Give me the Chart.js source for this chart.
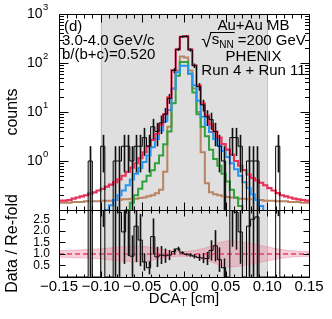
<!DOCTYPE html>
<html>
<head>
<meta charset="utf-8">
<script src="https://cdn.jsdelivr.net/npm/chart.js@4"></script>
<style>
  html, body { margin: 0; padding: 0; background: #fff; }
  #wrap { position: relative; width: 332px; height: 319px; }
  canvas { position: absolute; left: 0; top: 0; }
</style>
</head>
<body>
<div id="wrap">
  <canvas id="topPanel" width="332" height="319"></canvas>
  <canvas id="ratioPanel" width="332" height="319"></canvas>
</div>
<script>
Chart.defaults.font.family = '"Liberation Sans", Arial, sans-serif';
Chart.defaults.color = '#000';

// bins of DCA_T, 0.005 cm wide, from -0.15 to 0.15
const binWidth = 0.005;
const binLow = Array.from({ length: 60 }, (_, i) => -0.15 + i * binWidth);

// measured counts
const dataCounts = [
  0, 0, 0, 0, 0, 0, 0, 1, 0, 0,
  2, 0, 0, 1, 1, 2, 2, 1, 2, 2,
  3, 2, 5, 4, 6, 9, 19, 70, 190, 345,
  350, 185, 88, 33, 14, 8, 7, 4, 2, 1,
  0, 3, 3, 2, 0, 1, 1, 1, 0, 0,
  0, 0, 2, 0, 0, 0, 0, 0, 0, 0
];
// re-folded total (red)
const refoldTotal = [
  0.155, 0.155, 0.16, 0.17, 0.18, 0.19, 0.2, 0.215, 0.23, 0.25,
  0.27, 0.3, 0.33, 0.37, 0.42, 0.5, 0.6, 0.73, 0.9, 1.15,
  1.5, 2.0, 2.7, 3.6, 5.5, 9, 20, 72, 190, 340,
  355, 190, 90, 35, 15, 8.5, 5.6, 4, 3, 2.2,
  1.7, 1.35, 1.0, 0.8, 0.65, 0.53, 0.45, 0.4, 0.36, 0.32,
  0.28, 0.25, 0.22, 0.2, 0.19, 0.18, 0.17, 0.165, 0.16, 0.155
];
// components
const compBlue = [
  0.02, 0.022, 0.025, 0.028, 0.032, 0.037, 0.043, 0.05, 0.058, 0.068,
  0.08, 0.1, 0.125, 0.16, 0.2, 0.25, 0.32, 0.42, 0.55, 0.72,
  0.95, 1.3, 1.9, 2.8, 4.2, 6.5, 11, 30, 65, 88,
  88, 60, 35, 17, 8, 5.5, 3.9, 2.8, 2.1, 1.6,
  1.2, 0.9, 0.68, 0.5, 0.37, 0.28, 0.21, 0.16, 0.12, 0.095,
  0.075, 0.06, 0.05, 0.042, 0.036, 0.031, 0.027, 0.024, 0.021, 0.019
];
const compGreen = [
  0.002, 0.002, 0.003, 0.003, 0.004, 0.005, 0.006, 0.008, 0.01, 0.013,
  0.017, 0.022, 0.03, 0.04, 0.055, 0.075, 0.1, 0.14, 0.2, 0.27,
  0.38, 0.5, 0.65, 0.9, 1.3, 2.2, 4, 15, 55, 105,
  105, 60, 25, 9, 5, 3.2, 1.7, 1.1, 0.8, 0.55,
  0.38, 0.26, 0.18, 0.12, 0.085, 0.06, 0.042, 0.03, 0.021, 0.015,
  0.011, 0.008, 0.006, 0.005, 0.004, 0.003, 0.003, 0.002, 0.002, 0.002
];
const compBrown = [
  0.14, 0.14, 0.14, 0.145, 0.145, 0.145, 0.15, 0.15, 0.15, 0.15,
  0.155, 0.155, 0.155, 0.16, 0.16, 0.165, 0.165, 0.17, 0.17, 0.175,
  0.18, 0.19, 0.2, 0.22, 0.26, 0.6, 5, 30, 70, 135,
  130, 70, 30, 10, 1.5, 0.35, 0.23, 0.21, 0.2, 0.19,
  0.185, 0.18, 0.175, 0.17, 0.17, 0.165, 0.165, 0.16, 0.16, 0.155,
  0.155, 0.155, 0.15, 0.15, 0.15, 0.145, 0.145, 0.145, 0.14, 0.14
];
// data / re-fold
const ratioVals = [
  0, 0, 0, 0, 0, 0, 0, 4.6, 0, 0,
  7.4, 0, 0, 3.2, 2.8, 1.95, 3.1, 0.9, 2.2, 1.6,
  0.65, 0.4, 1.75, 0.87, 0.95, 0.92, 0.95, 1.1, 1.22, 1.05,
  0.98, 0.95, 0.9, 0.85, 0.82, 0.8, 1.15, 1.35, 0.75, 0.4,
  0, 3.1, 2.8, 1.95, 0, 2.2, 2.5, 2.6, 0, 0,
  0, 0, 9, 0, 0, 0, 0, 0, 0, 0
];
// re-fold uncertainty band in the ratio panel
const bandX = [-0.15, -0.125, -0.1, -0.075, -0.05, -0.025, 0, 0.025, 0.05, 0.075, 0.1, 0.125, 0.15];
const bandLow = [0.86, 0.83, 0.78, 0.70, 0.67, 0.82, 0.90, 0.75, 0.45, 0.52, 0.70, 0.85, 0.90];
const bandHigh = [1.14, 1.17, 1.22, 1.30, 1.33, 1.18, 1.10, 1.25, 1.55, 1.48, 1.30, 1.15, 1.10];

const xTicks = [-0.15, -0.1, -0.05, 0, 0.05, 0.1, 0.15];
const countDecades = [0, 1, 2, 3];
const ratioTicks = [0.5, 1.0, 1.5, 2.0, 2.5];
const shadeRange = [-0.1, 0.1];

const FONT = '"Liberation Sans", Arial, sans-serif';

function steps(vals, floor) {
  const pts = vals.map((v, i) => ({ x: binLow[i], y: floor && !(v > 0) ? floor : v }));
  pts.push({ x: binLow[vals.length - 1] + binWidth, y: pts[pts.length - 1].y });
  return pts;
}

function histo(vals, color, width, floor) {
  return {
    data: steps(vals, floor), borderColor: color, borderWidth: width,
    stepped: true, pointRadius: 0, fill: false
  };
}

// grey band -0.1..0.1
const shade = {
  id: 'shade',
  beforeDatasetsDraw(chart) {
    const { ctx, chartArea: a, scales: { x } } = chart;
    const l = x.getPixelForValue(shadeRange[0]);
    const r = x.getPixelForValue(shadeRange[1]);
    ctx.save();
    ctx.fillStyle = '#dfdfdf';
    ctx.fillRect(l, a.top, r - l, a.bottom - a.top);
    ctx.strokeStyle = '#c2c2c2';
    ctx.lineWidth = 1;
    ctx.beginPath();
    [l, r].forEach(p => {
      ctx.moveTo(Math.round(p) + 0.5, a.top);
      ctx.lineTo(Math.round(p) + 0.5, a.bottom);
    });
    ctx.stroke();
    ctx.restore();
  }
};

function errorBars(vals, lo, hi) {
  const each = (chart, fn) => {
    const { ctx, chartArea: a, scales: { x, y } } = chart;
    ctx.save();
    ctx.beginPath();
    ctx.rect(a.left, a.top, a.right - a.left, a.bottom - a.top);
    ctx.clip();
    vals.forEach((v, i) => {
      if (!(v > 0)) return;
      const cx = Math.round(x.getPixelForValue(binLow[i] + binWidth / 2));
      const top = Math.max(y.getPixelForValue(hi[i]), a.top - 2);
      const bot = lo[i] > y.min ? y.getPixelForValue(lo[i]) : a.bottom + 2;
      fn(ctx, cx, top, Math.min(bot, a.bottom + 2));
    });
    ctx.restore();
  };
  return {
    id: 'errorBars',
    beforeDatasetsDraw(chart) {
      each(chart, (ctx, cx, top, bot) => {
        ctx.fillStyle = 'rgba(100,100,100,0.55)';
        ctx.fillRect(cx - 1, top, 3, bot - top);
      });
    },
    afterDatasetsDraw(chart) {
      each(chart, (ctx, cx, top, bot) => {
        ctx.strokeStyle = '#111';
        ctx.lineWidth = 1;
        ctx.beginPath();
        ctx.moveTo(cx + 0.5, top);
        ctx.lineTo(cx + 0.5, bot);
        ctx.stroke();
      });
    }
  };
}

// frame with inward ticks on all four sides
function frame(xMaj, xMin, yList) {
  return {
    id: 'frame',
    afterDraw(chart) {
      const { ctx, chartArea: a, scales: { x, y } } = chart;
      const L = a.left + 0.5, R = a.right + 0.5, T = a.top + 0.5, B = a.bottom + 0.5;
      ctx.save();
      ctx.strokeStyle = '#000';
      ctx.lineWidth = 1;
      ctx.beginPath();
      ctx.rect(L, T, R - L, B - T);
      for (let i = 0; i <= 30; i++) {
        const v = -0.15 + i * 0.01;
        const len = i % 5 === 0 ? xMaj : xMin;
        const px = Math.round(x.getPixelForValue(v)) + 0.5;
        ctx.moveTo(px, T); ctx.lineTo(px, T + len);
        ctx.moveTo(px, B); ctx.lineTo(px, B - len);
      }
      yList.forEach(t => {
        const py = Math.round(y.getPixelForValue(t.v)) + 0.5;
        ctx.moveTo(L, py); ctx.lineTo(L + t.len, py);
        ctx.moveTo(R, py); ctx.lineTo(R - t.len, py);
      });
      ctx.stroke();
      ctx.restore();
    }
  };
}

const logTicks = [];
for (let k = -1; k <= 2; k++) {
  for (let m = 1; m <= 9; m++) {
    logTicks.push({ v: m * Math.pow(10, k), len: m === 1 ? 9 : 4.5 });
  }
}

const labels = {
  id: 'labels',
  afterDraw(chart) {
    const { ctx, scales: { y } } = chart;
    ctx.save();
    ctx.fillStyle = '#000';
    ctx.strokeStyle = '#000';
    countDecades.forEach(k => {
      const py = y.getPixelForValue(Math.pow(10, k));
      ctx.font = '14px ' + FONT;
      ctx.textAlign = 'right';
      ctx.textBaseline = 'middle';
      ctx.fillText('10', 42.5, py + 0.5);
      ctx.font = '9.5px ' + FONT;
      ctx.textAlign = 'left';
      ctx.textBaseline = 'alphabetic';
      ctx.fillText(String(k), 43, py - 4);
    });

    ctx.font = '15px ' + FONT;
    ctx.textAlign = 'left';
    ctx.fillText('(d)', 64, 31);
    ctx.fillText('3.0-4.0 GeV/c', 62, 45);
    ctx.fillText('b/(b+c)=0.520', 62, 59);

    const cx = 253.5;
    ctx.textAlign = 'center';
    ctx.fillText('Au+Au MB', cx, 30);
    ctx.fillText('PHENIX', cx, 61);
    ctx.fillText('Run 4 + Run 11', cx, 75);

    ctx.textAlign = 'left';
    ctx.font = '19px ' + FONT;
    const wRoot = ctx.measureText('\u221A').width;
    ctx.font = '15px ' + FONT;
    const wS = ctx.measureText('s').width;
    const wRest = ctx.measureText(' =200 GeV').width;
    ctx.font = '10px ' + FONT;
    const wNN = ctx.measureText('NN').width;
    let x0 = cx - (wRoot + wS + wNN + wRest) / 2;
    ctx.font = '19px ' + FONT;
    ctx.fillText('\u221A', x0, 47);
    ctx.font = '15px ' + FONT;
    ctx.fillText('s', x0 + wRoot, 44);
    ctx.font = '10px ' + FONT;
    ctx.fillText('NN', x0 + wRoot + wS, 48);
    ctx.font = '15px ' + FONT;
    ctx.fillText(' =200 GeV', x0 + wRoot + wS + wNN, 45);
    ctx.lineWidth = 1;
    ctx.beginPath();
    ctx.moveTo(x0 + wRoot - 1.5, 32.5);
    ctx.lineTo(x0 + wRoot + wS + wNN + 1, 32.5);
    ctx.stroke();
    ctx.restore();
  }
};

const xTitle = {
  id: 'xTitle',
  afterDraw(chart) {
    const { ctx } = chart;
    ctx.save();
    ctx.fillStyle = '#000';
    ctx.textBaseline = 'alphabetic';
    ctx.textAlign = 'left';
    ctx.font = '15px ' + FONT;
    const w1 = ctx.measureText('DCA').width;
    const w3 = ctx.measureText(' [cm]').width;
    ctx.font = '10px ' + FONT;
    const w2 = ctx.measureText('T').width;
    let x0 = 184 - (w1 + w2 + w3) / 2;
    ctx.font = '15px ' + FONT;
    ctx.fillText('DCA', x0, 303);
    ctx.fillText(' [cm]', x0 + w1 + w2, 303);
    ctx.font = '10px ' + FONT;
    ctx.fillText('T', x0 + w1, 306);
    ctx.restore();
  }
};

const countLo = dataCounts.map(v => v - Math.sqrt(v));
const countHi = dataCounts.map(v => v + Math.sqrt(v));

new Chart(document.getElementById('topPanel'), {
  type: 'line',
  data: {
    datasets: [
      histo(dataCounts, '#000', 1, 1e-4),
      histo(refoldTotal, 'rgb(232,48,90)', 2.2),
      histo(compBlue, 'rgb(40,150,240)', 2),
      histo(compGreen, 'rgb(50,160,60)', 2),
      histo(compBrown, 'rgb(185,132,98)', 2)
    ]
  },
  options: {
    responsive: false,
    devicePixelRatio: 1,
    animation: false,
    layout: { padding: { top: 14, right: 23, bottom: 109, left: 0 } },
    plugins: { legend: { display: false }, tooltip: { enabled: false } },
    scales: {
      x: { type: 'linear', min: -0.15, max: 0.15, display: false },
      y: {
        type: 'logarithmic', min: 0.1, max: 1000,
        grid: { display: false, drawTicks: false },
        border: { display: false },
        ticks: { display: false },
        title: { display: true, text: 'counts', font: { size: 16 }, padding: { top: 3, bottom: 0 } },
        afterFit(s) { s.width = 59; }
      }
    }
  },
  plugins: [shade, errorBars(dataCounts, countLo, countHi), frame(8, 4, logTicks), labels]
});

const ratioLo = ratioVals.map((r, i) => dataCounts[i] > 0 ? r - r / Math.sqrt(dataCounts[i]) : 0);
const ratioHi = ratioVals.map((r, i) => dataCounts[i] > 0 ? r + r / Math.sqrt(dataCounts[i]) : 0);

new Chart(document.getElementById('ratioPanel'), {
  type: 'line',
  data: {
    datasets: [
      histo(ratioVals, '#000', 1),
      {
        data: [{ x: -0.15, y: 1 }, { x: 0.15, y: 1 }],
        borderColor: 'rgb(232,64,104)', borderWidth: 1.5, borderDash: [5, 3],
        pointRadius: 0, fill: false
      },
      {
        data: bandX.map((x, i) => ({ x, y: bandHigh[i] })),
        borderColor: 'rgba(225,95,130,0.45)', borderWidth: 0.8,
        backgroundColor: 'rgba(236,120,150,0.35)', fill: '+1',
        tension: 0.4, pointRadius: 0
      },
      {
        data: bandX.map((x, i) => ({ x, y: bandLow[i] })),
        borderColor: 'rgba(225,95,130,0.45)', borderWidth: 0.8,
        fill: false, tension: 0.4, pointRadius: 0
      }
    ]
  },
  options: {
    responsive: false,
    devicePixelRatio: 1,
    animation: false,
    layout: { padding: { top: 210, right: 23, bottom: 0, left: 0 } },
    plugins: { legend: { display: false }, tooltip: { enabled: false } },
    scales: {
      x: {
        type: 'linear', min: -0.15, max: 0.15,
        grid: { display: false, drawTicks: false },
        border: { display: false },
        afterBuildTicks(s) { s.ticks = xTicks.map(v => ({ value: v })); },
        ticks: {
          font: { size: 15 }, padding: 1, maxRotation: 0, autoSkip: false,
          callback: v => (v < -1e-9 ? '\u2212' : '') + Math.abs(v).toFixed(2)
        },
        afterFit(s) { s.height = 42; }
      },
      y: {
        type: 'linear', min: 0, max: 2.9,
        grid: { display: false, drawTicks: false },
        border: { display: false },
        afterBuildTicks(s) { s.ticks = ratioTicks.map(v => ({ value: v })); },
        ticks: { font: { size: 12 }, padding: 9, autoSkip: false, callback: v => v.toFixed(1) },
        title: { display: true, text: 'Data / Re-fold', font: { size: 16 }, padding: { top: 3, bottom: 0 } },
        afterFit(s) { s.width = 59; }
      }
    }
  },
  plugins: [shade, errorBars(ratioVals, ratioLo, ratioHi),
    frame(6, 3, ratioTicks.map(v => ({ v, len: 6 }))), xTitle]
});
</script>
</body>
</html>
